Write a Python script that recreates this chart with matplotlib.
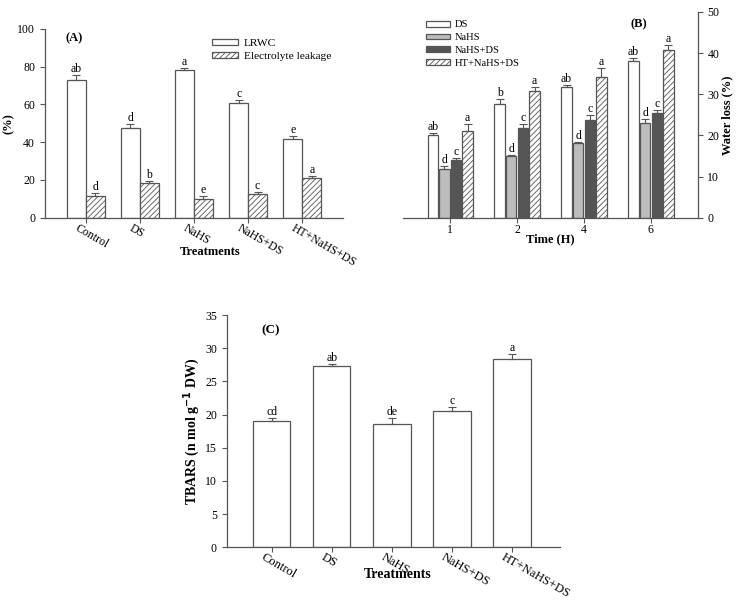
import matplotlib
matplotlib.use('Agg')
import matplotlib.pyplot as plt
import matplotlib.transforms as mtrans
import numpy as np

plt.rcParams['font.family'] = ['Liberation Serif', 'DejaVu Serif']
plt.rcParams['hatch.linewidth'] = 0.6
plt.rcParams['hatch.color'] = '#444444'

# --- Panel A data
treatments = ['Control', 'DS', 'NaHS', 'NaHS+DS', 'HT+NaHS+DS']
lrwc = [73, 47.5, 78, 61, 41.5]
lrwc_err = [2.5, 2.0, 1.0, 1.5, 2.0]
lrwc_let = ['ab', 'd', 'a', 'c', 'e']
el = [11.5, 18.5, 10, 12.5, 21]
el_err = [1.5, 1.0, 1.5, 1.0, 1.0]
el_let = ['d', 'b', 'e', 'c', 'a']

# --- Panel B data
times = ['1', '2', '4', '6']
b_series = ['DS', 'NaHS', 'NaHS+DS', 'HT+NaHS+DS']
wl_ds = [20.0, 27.7, 31.7, 38.2]
wl_ds_err = [0.7, 1.2, 0.6, 0.7]
wl_nahs = [11.8, 14.9, 18.2, 23.0]
wl_nahs_err = [0.7, 0.4, 0.3, 0.9]
wl_nahsds = [14.0, 21.8, 23.7, 25.5]
wl_nahsds_err = [0.6, 0.9, 1.2, 0.8]
wl_ht = [21.2, 30.7, 34.1, 40.7]
wl_ht_err = [1.5, 1.0, 2.2, 1.2]
wl_let = [['ab', 'b', 'ab', 'ab'],
          ['d', 'd', 'd', 'd'],
          ['c', 'c', 'c', 'c'],
          ['a', 'a', 'a', 'a']]

# --- Panel C data
tbars = [19.0, 27.3, 18.5, 20.5, 28.4]
tbars_err = [0.4, 0.3, 0.9, 0.6, 0.7]
tbars_let = ['cd', 'ab', 'de', 'c', 'a']

edge = '#555555'
fs = 8.5

fig = plt.figure(figsize=(7.36, 6), dpi=100)


def style_axis(ax, side='left'):
    for s in ['top', 'right', 'left', 'bottom']:
        ax.spines[s].set_visible(False)
    ax.spines['bottom'].set_visible(True)
    ax.spines[side].set_visible(True)
    for s in ['bottom', side]:
        ax.spines[s].set_color(edge)
        ax.spines[s].set_linewidth(0.9)
    ax.tick_params(colors='black', labelsize=fs, length=3.5, width=0.8, color=edge)
    ax.tick_params(axis='x', pad=1.0)


def draw_bars(ax, x, vals, errs, letters, width, **kw):
    ax.bar(x, vals, width, edgecolor=edge, linewidth=0.9, **kw)
    ax.errorbar(x, vals, yerr=[np.zeros(len(vals)), errs], fmt='none',
                ecolor=edge, elinewidth=0.8, capsize=3, capthick=0.8)
    for xi, v, e, t in zip(x, vals, errs, letters):
        ax.text(xi, v + e, t, ha='center', va='bottom', fontsize=fs)


def slant_labels(ax, labels, size=fs):
    ax.set_xticklabels(labels, rotation=-30, ha='left', va='top', rotation_mode='anchor',
                       fontsize=size)
    shift = mtrans.ScaledTranslation(-0.07, 0.02, fig.dpi_scale_trans)
    for lab in ax.get_xticklabels():
        lab.set_transform(lab.get_transform() + shift)


# ---------------- Panel A
axA = fig.add_axes([0.061, 0.637, 0.405, 0.315])
xa = np.arange(len(treatments))
wA = 0.35
draw_bars(axA, xa - wA / 2, lrwc, lrwc_err, lrwc_let, wA, color='white', label='LRWC')
draw_bars(axA, xa + wA / 2, el, el_err, el_let, wA, color='white', hatch='//////',
          label='Electrolyte leakage')
style_axis(axA, 'left')
axA.set_xlim(-0.75, 4.75)
axA.set_ylim(0, 100)
axA.set_yticks(range(0, 101, 20))
axA.set_xticks(xa)
slant_labels(axA, treatments)
axA.set_ylabel('(%)', fontsize=9, fontweight='bold')
axA.yaxis.set_label_coords(-0.10, 0.5)
axA.set_xlabel('Treatments', fontsize=9, fontweight='bold')
axA.xaxis.set_label_coords(0.553, -0.15)
axA.text(0.07, 0.95, '(A)', transform=axA.transAxes, fontsize=9, fontweight='bold',
         va='center')
axA.legend(loc='upper right', bbox_to_anchor=(0.995, 1.0), frameon=False, fontsize=8.2,
           handlelength=2.3, handleheight=0.45, labelspacing=0.3, handletextpad=0.5)

# ---------------- Panel B
axB = fig.add_axes([0.548, 0.637, 0.40, 0.343])
xb = np.arange(len(times))
wB = 0.155
step = 0.174
b_vals = [wl_ds, wl_nahs, wl_nahsds, wl_ht]
b_errs = [wl_ds_err, wl_nahs_err, wl_nahsds_err, wl_ht_err]
b_colors = ['white', '#bdbdbd', '#555555', 'white']
b_hatch = [None, None, None, '//////']
for i in range(4):
    draw_bars(axB, xb + (i - 1.5) * step, b_vals[i], b_errs[i], wl_let[i], wB,
              color=b_colors[i], hatch=b_hatch[i], label=b_series[i])
style_axis(axB, 'right')
axB.yaxis.tick_right()
axB.yaxis.set_label_position('right')
axB.set_xlim(-0.7, 3.7)
axB.set_ylim(0, 50)
axB.set_yticks(range(0, 51, 10))
axB.set_xticks(xb)
axB.set_xticklabels(times)
axB.set_xlabel('Time (H)', fontsize=9, fontweight='bold')
axB.xaxis.set_label_coords(0.5, -0.075)
axB.set_ylabel('Water loss (%)', fontsize=9, fontweight='bold')
axB.yaxis.set_label_coords(1.08, 0.5)
axB.text(0.77, 0.94, '(B)', transform=axB.transAxes, fontsize=9, fontweight='bold',
         va='center')
axB.legend(loc='upper left', bbox_to_anchor=(0.05, 1.0), frameon=False, fontsize=7.6,
           handlelength=2.2, handleheight=0.45, labelspacing=0.35, handletextpad=0.5,
           borderpad=0.3)

# ---------------- Panel C
axC = fig.add_axes([0.308, 0.088, 0.453, 0.387])
xc = np.arange(len(treatments))
draw_bars(axC, xc, tbars, tbars_err, tbars_let, 0.62, color='white')
style_axis(axC, 'left')
axC.set_xlim(-0.75, 4.8)
axC.set_ylim(0, 35)
axC.set_yticks(range(0, 36, 5))
axC.set_xticks(xc)
slant_labels(axC, treatments, 9)
axC.set_ylabel('TBARS (n mol g$^{\\mathbf{-1}}$ DW)', fontsize=10, fontweight='bold')
axC.yaxis.set_label_coords(-0.075, 0.5)
axC.set_xlabel('Treatments', fontsize=10, fontweight='bold')
axC.xaxis.set_label_coords(0.513, -0.09)
axC.text(0.105, 0.935, '(C)', transform=axC.transAxes, fontsize=9.5, fontweight='bold',
         va='center')

fig.savefig('out.png', dpi=100)
